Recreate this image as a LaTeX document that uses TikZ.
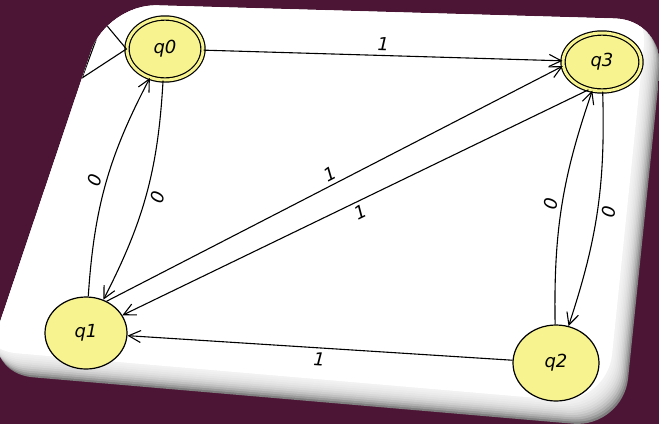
\documentclass[tikz,border=0pt]{standalone}
\usepackage{fontspec}
\usetikzlibrary{arrows.meta,shapes.geometric}
\newfontfamily\jflapfont{DejaVu Sans}
\definecolor{bgmaroon}{HTML}{4D1535}
\definecolor{stateyellow}{HTML}{F7F38F}
\begin{document}
\begin{tikzpicture}[x=1pt,y=-1pt,
  >={Straight Barb[length=12pt,width=12pt]},
  every node/.style={font=\fontsize{18}{21}\selectfont\jflapfont\itshape},
  state/.style={ellipse,draw,line width=1.2pt,fill=stateyellow,inner sep=0pt},
  accepting/.style={double=stateyellow,double distance=3pt},
  edge/.style={->,line width=1.1pt},
  lbl/.style={sloped,inner sep=4pt}]
  \fill[bgmaroon] (0,0) rectangle (659,424);
  \useasboundingbox (0,0) rectangle (659,424);
  \begin{scope}
    \clip[rounded corners=50] (107,4) -- (665,20) -- (623,428) -- (-17,373) -- cycle;
    \fill[black!50] (0,0) rectangle (659,424);
    \foreach \i in {1,...,10}
      \fill[white,opacity=0.22,rounded corners=50,shift={(-1.4*\i,-2.2*\i)}]
        (107,4) -- (665,20) -- (623,428) -- (-17,373) -- cycle;
    \fill[white,rounded corners=50,shift={(-16,-24)}]
      (107,4) -- (665,20) -- (623,428) -- (-17,373) -- cycle;
    \coordinate (s1) at (82,78);
    \coordinate (s2) at (103,21);
    \node[state,accepting,minimum width=76pt,minimum height=62pt] (q0) at (165,49) {q0};
    \draw[line width=1.1pt] (q0.west) -- (s1) -- (s2) -- cycle;
  \end{scope}
  \node[state,accepting,minimum width=78pt,minimum height=58pt] (q3) at (602,62) {q3};
  \node[state,minimum width=82pt,minimum height=72pt] (q1) at (86,333) {q1};
  \node[state,minimum width=86pt,minimum height=76pt] (q2) at (556,363) {q2};
  \draw[edge] (q0) -- node[lbl,above] {1} (q3);
  \draw[edge] (q1) to[bend left=12] node[lbl,above] {0} (q0);
  \draw[edge] (q0) to[bend left=12] node[lbl,below] {0} (q1);
  \draw[edge] (q2) to[bend left=10] node[lbl,above] {0} (q3);
  \draw[edge] (q3) to[bend left=10] node[lbl,below] {0} (q2);
  \draw[edge] (q1.57) -- node[lbl,above] {1} (q3.186);
  \draw[edge] (q3.244) -- node[lbl,below] {1} (q1.26);
  \draw[edge] (q2) -- node[lbl,below] {1} (q1);
\end{tikzpicture}
\end{document}
